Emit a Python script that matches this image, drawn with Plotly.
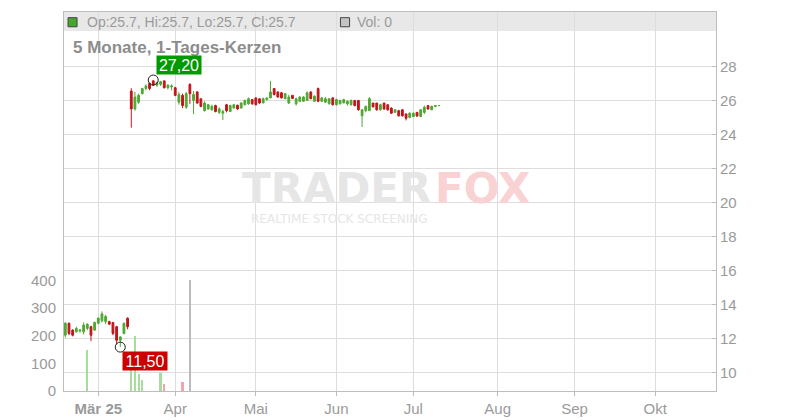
import pandas as pd
import plotly.graph_objects as go

# ---------------- data ----------------
dates = pd.bdate_range("2025-02-18", "2025-07-10")  # trading days shown

open_ = [
    12.20, 12.90, 12.50, 12.40, 12.45, 12.40, 12.60, 12.70, 12.50,
    12.90, 13.05, 13.00, 13.00, 12.95, 12.70, 11.90, 12.30, 13.20, 26.55,
    25.50, 25.90, 26.40, 26.70, 27.00, 27.15, 26.90, 26.95, 27.15, 26.75, 26.80,
    26.75, 25.90, 26.30, 25.60, 26.95, 26.00, 26.50, 26.10, 25.40, 25.50, 25.45,
    25.70, 25.30, 25.25, 25.75, 25.35, 25.55, 25.72, 25.55, 25.75, 25.80, 26.05,
    26.15, 26.10, 25.85, 26.05, 26.15, 26.70, 26.50, 26.45, 26.10, 25.85, 26.30,
    25.80, 25.95, 25.95, 26.00, 26.50, 25.95, 26.70, 25.95, 25.90, 25.80, 26.15,
    25.75, 25.80, 25.85, 25.80, 25.75, 26.00, 26.00, 25.10, 25.40, 25.40, 25.85,
    25.85, 25.45, 25.85, 25.75, 25.55, 25.30, 25.40, 25.45, 25.20, 25.00,
    25.05, 25.30, 25.05, 25.30, 25.70, 25.45, 25.65, 25.70,
]
high = [
    12.97, 12.95, 12.55, 12.70, 12.55, 12.95, 12.90, 12.75, 13.00,
    13.25, 13.60, 13.40, 13.05, 12.95, 12.75, 12.15, 12.95, 13.25, 26.72,
    26.50, 26.40, 26.75, 26.95, 27.05, 27.20, 27.10, 27.15, 27.18, 26.95, 26.95,
    26.80, 26.50, 26.40, 26.50, 27.00, 26.55, 26.55, 26.10, 25.95, 25.80, 25.75,
    25.75, 25.60, 25.45, 25.80, 25.75, 25.80, 25.75, 25.90, 26.05, 26.17, 26.05,
    26.17, 26.12, 26.17, 26.17, 27.15, 26.72, 26.53, 26.50, 26.42, 26.33, 26.30,
    26.17, 26.25, 26.25, 26.53, 26.53, 26.30, 26.76, 26.20, 26.20, 26.14, 26.20,
    26.10, 26.05, 26.10, 26.00, 26.05, 26.00, 26.00, 25.50, 25.70, 26.20, 25.85,
    25.85, 25.80, 25.85, 25.75, 25.60, 25.50, 25.45, 25.50, 25.25, 25.30,
    25.30, 25.30, 25.50, 25.70, 25.70, 25.70, 25.72, 25.70,
]
low = [
    12.06, 12.20, 12.13, 12.35, 12.35, 12.25, 12.50, 11.85, 12.45,
    12.85, 12.95, 12.85, 12.80, 12.20, 11.66, 11.50, 12.25, 12.55, 24.40,
    25.40, 25.80, 26.35, 26.60, 26.60, 26.85, 26.80, 26.85, 26.70, 26.65, 26.60,
    26.25, 25.75, 25.55, 25.50, 25.80, 25.20, 25.80, 25.60, 25.35, 25.45, 25.40,
    25.30, 25.20, 24.85, 25.30, 25.32, 25.55, 25.45, 25.55, 25.70, 25.75, 25.75,
    25.70, 25.80, 25.85, 26.00, 26.14, 26.29, 26.17, 26.12, 26.08, 25.79, 26.10,
    25.70, 25.90, 25.95, 25.98, 26.08, 25.95, 25.90, 25.95, 25.85, 25.78, 25.70,
    25.70, 25.78, 25.85, 25.70, 25.70, 25.65, 25.40, 24.44, 25.30, 25.38, 25.60,
    25.40, 25.40, 25.45, 25.40, 25.20, 25.30, 25.05, 25.05, 24.83, 24.95,
    25.05, 25.05, 25.05, 25.20, 25.45, 25.45, 25.62, 25.70,
]
close = [
    12.90, 12.30, 12.20, 12.60, 12.50, 12.80, 12.85, 12.20, 12.95,
    13.20, 13.45, 13.30, 12.85, 12.30, 11.90, 12.10, 12.90, 12.70, 25.50,
    26.20, 26.30, 26.70, 26.85, 26.70, 26.90, 27.05, 27.10, 26.75, 26.90, 26.85,
    26.30, 26.35, 25.70, 26.40, 26.40, 26.35, 25.85, 25.65, 25.85, 25.75, 25.65,
    25.35, 25.50, 25.35, 25.40, 25.70, 25.75, 25.50, 25.85, 26.00, 26.10, 25.80,
    25.75, 25.85, 26.10, 26.15, 26.50, 26.35, 26.20, 26.15, 26.40, 26.20, 26.12,
    26.10, 26.20, 26.20, 26.45, 26.10, 26.25, 25.95, 26.15, 26.10, 26.10, 25.75,
    26.05, 26.00, 26.05, 25.95, 26.00, 25.70, 25.45, 25.45, 25.65, 26.10, 25.62,
    25.45, 25.75, 25.50, 25.45, 25.25, 25.45, 25.10, 25.10, 24.95, 25.25,
    25.25, 25.08, 25.45, 25.60, 25.50, 25.65, 25.70, 25.70,
]
volume = [
    0, 0, 0, 0, 0, 0, 150, 0, 0,
    0, 0, 0, 0, 0, 0, 0, 0, 0, 75,
    200, 60, 38, 0, 0, 0, 0, 66, 24, 0, 0,
    0, 0, 32, 0, 400, 0, 0, 0, 0, 0, 0,
    0, 0, 0, 0, 0, 0, 0, 0, 0, 0, 0,
    0, 0, 0, 0, 0, 0, 0, 0, 0, 0, 0,
    0, 0, 0, 0, 0, 0, 0, 0, 0, 0, 0,
    0, 0, 0, 0, 0, 0, 0, 0, 0, 0, 0,
    0, 0, 0, 0, 0, 0, 0, 0, 0, 0,
    0, 0, 0, 0, 0, 0, 0, 0,
]

month_ticks = ["2025-03-03", "2025-04-01", "2025-05-01", "2025-06-02",
               "2025-07-01", "2025-08-01", "2025-09-01", "2025-10-01"]
month_labels = ["<b>Mär 25</b>", "Apr", "Mai", "Jun", "Jul", "Aug", "Sep", "Okt"]
price_ticks = [10, 12, 14, 16, 18, 20, 22, 24, 26, 28]
volume_ticks = [0, 100, 200, 300, 400]

# ---------------- style ----------------
FONT = "Liberation Sans, Arial, sans-serif"
GREEN = "#4fa832"
RED = "#c0141c"
VGREEN = "#a8dc9e"
VRED = "#f0a4ad"
VGRAY = "#bbbbbb"
GRID = "#dddddd"
AXIS = "#bdbdbd"
TXT = "#9a9a9a"

vcolors = []
for i, c in enumerate(close):
    prev = close[i - 1] if i > 0 else open_[i]
    vcolors.append(VGREEN if c > prev else (VRED if c < prev else VGRAY))

imax = max(range(len(high)), key=lambda i: high[i])
imin = min(range(len(low)), key=lambda i: low[i])

fig = go.Figure()
fig.add_trace(go.Bar(
    x=dates, y=volume, marker=dict(color=vcolors, line=dict(width=0)),
    width=0.6 * 86400000, yaxis="y", hoverinfo="skip", showlegend=False))
fig.add_trace(go.Candlestick(
    x=dates, open=open_, high=high, low=low, close=close, yaxis="y2",
    increasing=dict(line=dict(color=GREEN, width=1), fillcolor=GREEN),
    decreasing=dict(line=dict(color=RED, width=1), fillcolor=RED),
    whiskerwidth=0, hoverinfo="skip", showlegend=False))
fig.add_trace(go.Scatter(
    x=[dates[imax], dates[imin]], y=[high[imax], low[imin]], yaxis="y2",
    mode="markers", hoverinfo="skip", showlegend=False,
    marker=dict(symbol="circle-open", size=10, color="#222222", line=dict(width=1))))

fmt = lambda v: f"{v:.2f}".replace(".", ",")

annotations = [
    # header line
    dict(xref="paper", yref="paper", x=0.032, y=0.974, xanchor="left", yanchor="middle",
         text=f"Op:{open_[-1]:g}, Hi:{high[-1]:g}, Lo:{low[-1]:g}, Cl:{close[-1]:g}",
         showarrow=False, font=dict(family=FONT, size=14, color=TXT)),
    dict(xref="paper", yref="paper", x=0.446, y=0.974, xanchor="left", yanchor="middle",
         text=f"Vol: {volume[-1]}", showarrow=False,
         font=dict(family=FONT, size=14, color=TXT)),
    # title
    dict(xref="paper", yref="paper", x=0.011, y=0.906, xanchor="left", yanchor="middle",
         text="<b>5 Monate, 1-Tages-Kerzen</b>", showarrow=False,
         font=dict(family=FONT, size=17, color="#8c8c8c")),
    # watermark
    dict(xref="paper", yref="paper", x=0.566, y=0.535, xanchor="right", yanchor="middle",
         text="<b>TRADER</b>", showarrow=False,
         font=dict(family="DejaVu Sans", size=42, color="#e6e6e6")),
    dict(xref="paper", yref="paper", x=0.566, y=0.535, xanchor="left", yanchor="middle",
         text="<b>FOX</b>", showarrow=False,
         font=dict(family="DejaVu Sans", size=42, color="#f9d3d3")),
    dict(xref="paper", yref="paper", x=0.422, y=0.454, xanchor="center", yanchor="middle",
         text="REALTIME STOCK SCREENING", showarrow=False,
         font=dict(family="DejaVu Sans", size=12, color="#e6e6e6")),
    # max / min labels
    dict(xref="x", yref="y2", x=dates[imax], y=high[imax], xanchor="left", yanchor="bottom",
         xshift=3, yshift=5, text=fmt(high[imax]), showarrow=False,
         bgcolor="#009a00", width=44, height=18, borderpad=0,
         font=dict(family=FONT, size=16, color="white")),
    dict(xref="x", yref="y2", x=dates[imin], y=low[imin], xanchor="left", yanchor="top",
         xshift=2, yshift=-4, text=fmt(low[imin]), showarrow=False,
         bgcolor="#cc0000", width=44, height=18, borderpad=0,
         font=dict(family=FONT, size=16, color="white")),
]

shapes = [
    dict(type="rect", xref="paper", yref="paper", x0=0, x1=1, y0=0.950, y1=1,
         fillcolor="#e8e8e8", line=dict(width=0), layer="below"),
    dict(type="rect", xref="paper", yref="paper", x0=0.0062, x1=0.0200, y0=0.961, y1=0.985,
         fillcolor="#45a82a", line=dict(color="#444444", width=1)),
    dict(type="rect", xref="paper", yref="paper", x0=0.424, x1=0.438, y0=0.961, y1=0.985,
         fillcolor="#c4c4c4", line=dict(color="#444444", width=1)),
]

# page body has an 8px default margin, so the figure is sized to fit inside it
fig.update_layout(
    width=792, height=412,
    margin=dict(l=56, r=84, t=3, b=28),
    paper_bgcolor="white", plot_bgcolor="white",
    font=dict(family=FONT, size=15, color=TXT),
    hovermode=False, showlegend=False, bargap=0,
    xaxis=dict(
        type="date", range=["2025-02-17 15:20", "2025-10-23 14:30"],
        rangebreaks=[dict(bounds=["sat", "mon"])],
        rangeslider=dict(visible=False),
        tickmode="array", tickvals=month_ticks, ticktext=month_labels,
        showgrid=True, gridcolor=GRID, gridwidth=1,
        ticks="outside", ticklen=4, tickcolor=AXIS,
        showline=True, linecolor=AXIS, linewidth=1, mirror=True,
        tickfont=dict(family=FONT, size=15, color=TXT), zeroline=False),
    yaxis=dict(
        side="left", range=[0, 1370], tickmode="array", tickvals=volume_ticks,
        showgrid=False, zeroline=False, showline=True, linecolor=AXIS, linewidth=1,
        ticks="", ticklabelstandoff=4,
        tickfont=dict(family=FONT, size=15, color=TXT)),
    yaxis2=dict(
        side="right", overlaying="y", range=[8.92, 31.2],
        tickmode="array", tickvals=price_ticks,
        showgrid=True, gridcolor=GRID, gridwidth=1, zeroline=False,
        ticks="inside", ticklen=4, tickcolor=AXIS,
        showline=True, linecolor=AXIS, linewidth=1,
        tickfont=dict(family=FONT, size=15, color=TXT)),
    annotations=annotations, shapes=shapes,
)

fig.write_html("out.html")
